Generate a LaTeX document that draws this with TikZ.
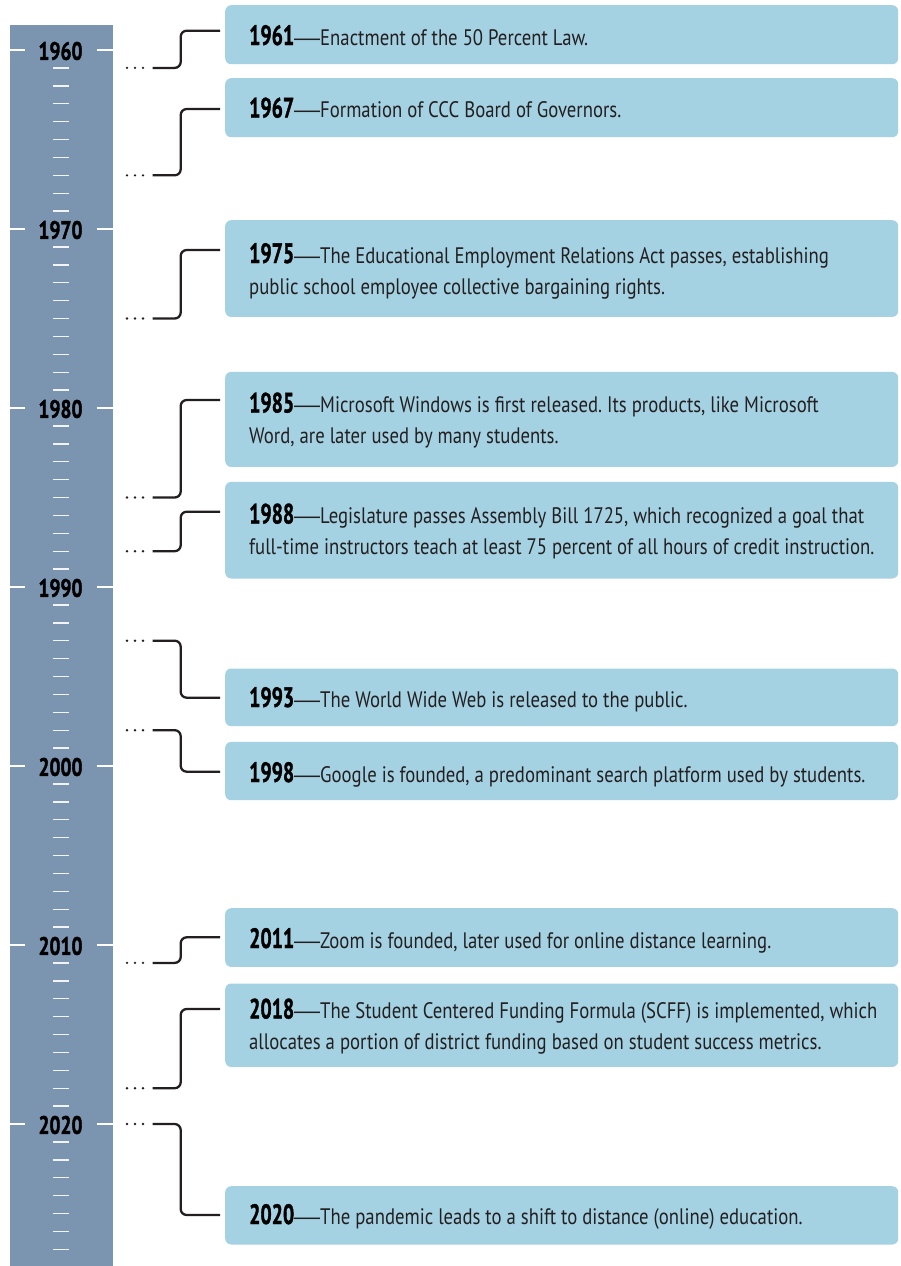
\documentclass[tikz,border=0pt]{standalone}
\usepackage{fontspec}
\usepackage{graphicx}
\usepackage{xcolor}
\setmainfont{PT Sans}
\newfontfamily\calreg{PT Sans}
\newfontfamily\dashfam{Liberation Sans}
\newlength\calw
\newlength\calh
% body text calibration
\settoheight\calh{\calreg\fontsize{100pt}{100pt}\selectfont E}
\pgfmathsetmacro\bodysize{15.7*100/\calh}
\settowidth\calw{\calreg\fontsize{\bodysize pt}{\bodysize pt}\selectfont Enactment of the 50 Percent Law.}
\pgfmathsetmacro\bodyx{268/\calw}
% em dash
\settowidth\calw{\dashfam\fontsize{\bodysize pt}{\bodysize pt}\selectfont —}
\pgfmathsetmacro\dashx{26/\calw}
% year in box
\settoheight\calh{\calreg\bfseries\fontsize{100pt}{100pt}\selectfont 1961}
\pgfmathsetmacro\yearsize{20*100/\calh}
\settowidth\calw{\calreg\bfseries\fontsize{\yearsize pt}{\yearsize pt}\selectfont 1961}
\pgfmathsetmacro\yearx{45/\calw}
% ruler labels
\settoheight\calh{\calreg\bfseries\fontsize{100pt}{100pt}\selectfont 1960}
\pgfmathsetmacro\rulersize{18*100/\calh}
\settowidth\calw{\calreg\bfseries\fontsize{\rulersize pt}{\rulersize pt}\selectfont 1960}
\pgfmathsetmacro\rulerx{44/\calw}
\edef\tmpdef{\noexpand\newfontfamily\noexpand\bodyfam[FakeStretch=\bodyx]{PT Sans}}\tmpdef
\edef\tmpdef{\noexpand\newfontfamily\noexpand\yearfam[FakeStretch=\yearx,FakeBold=1.2]{PT Sans}}\tmpdef
\edef\tmpdef{\noexpand\newfontfamily\noexpand\rulerfam[FakeStretch=\rulerx,FakeBold=1.5]{PT Sans}}\tmpdef

\definecolor{rulerblue}{HTML}{7B94B0}
\definecolor{boxblue}{HTML}{A4D2E3}
\definecolor{ink}{HTML}{231F20}

\newcommand\yr[1]{\textcolor{black}{\yearfam\bfseries\fontsize{\yearsize pt}{\yearsize pt}\selectfont #1}}
\newcommand\emd{\scalebox{\dashx}[1]{\dashfam —}}

\tikzset{
  evbox/.style={fill=boxblue, rounded corners=6pt, inner sep=0pt, minimum width=673pt, anchor=north west},
  evtext/.style={anchor=base west, inner sep=0pt, text=ink, font=\bodyfam\fontsize{\bodysize pt}{31pt}\selectfont\frenchspacing},
  conn/.style={draw=ink, line width=2.3pt, rounded corners=6pt},
  majortick/.style={draw=white, line width=2.2pt},
  minortick/.style={draw=white!90!rulerblue, line width=1.4pt},
  rulerlabel/.style={inner sep=0pt, text=black, font=\rulerfam\bfseries\fontsize{\rulersize pt}{\rulersize pt}\selectfont}
}

% #1 year, #2 box top, #3 box height, #4 first baseline, #5 connector target y, #6 text
\newcommand\event[6]{%
  \node[evbox, minimum height=#3pt] (b#1) at (225,#2) {};
  \node[evtext] (l#1) at (249,#4) {\begin{tabular}[t]{@{}l@{}}#6\end{tabular}};
  \coordinate (d#1) at (152.7,{50+(#1-1960)*17.9});
  \coordinate (t#1) at (220,#5);
  \foreach \dx in {127,135,143} {\fill[ink] (\dx,{50+(#1-1960)*17.9}) circle (1.3);}
  \draw[conn] (d#1) -- ++(28,0) |- (t#1);
}

\begin{document}
\begin{tikzpicture}[x=1pt,y=-1pt]
\useasboundingbox (0,0) rectangle (901,1266);
\fill[white] (0,0) rectangle (901,1266);
% ruler
\fill[rulerblue] (10,25) rectangle (113,1266);
\foreach \k in {1,...,67} {
  \pgfmathtruncatemacro\m{mod(\k,10)}
  \ifnum\m=0\relax\else
    \draw[minortick] (53.3,{50+\k*17.9}) -- (69,{50+\k*17.9});
  \fi
}
\foreach \k in {0,...,6} {
  \pgfmathtruncatemacro\yy{1960+10*\k}
  \draw[majortick] (10,{50+\k*179}) -- (25,{50+\k*179});
  \draw[majortick] (96.7,{50+\k*179}) -- (113,{50+\k*179});
  \node[rulerlabel] (y\yy) at (60.5,{51+\k*179}) {\yy};
}
% events
\event{1961}{5}{59}{45}{30.7}{\yr{1961}\emd Enactment of the 50 Percent Law.}
\event{1967}{78}{59}{117.5}{109}{\yr{1967}\emd Formation of CCC Board of Governors.}
\event{1975}{220}{96.7}{263}{250}{\yr{1975}\emd The Educational Employment Relations Act passes, establishing\\public school employee collective bargaining rights.}
\event{1985}{371.7}{95}{412.5}{400}{\yr{1985}\emd Microsoft Windows is first released. Its products, like Microsoft\\Word, are later used by many students.}
\event{1988}{481.7}{96.6}{523.5}{511.7}{\yr{1988}\emd Legislature passes Assembly Bill 1725, which recognized a goal that\\full-time instructors teach at least 75 percent of all hours of credit instruction.}
\event{1993}{668.3}{57.7}{707}{697.7}{\yr{1993}\emd The World Wide Web is released to the public.}
\event{1998}{741.7}{58.3}{782}{771.7}{\yr{1998}\emd Google is founded, a predominant search platform used by students.}
\event{2011}{908}{58.7}{948}{937.3}{\yr{2011}\emd Zoom is founded, later used for online distance learning.}
\event{2018}{983.3}{83.4}{1018.5}{1009}{\yr{2018}\emd The Student Centered Funding Formula (SCFF) is implemented, which\\allocates a portion of district funding based on student success metrics.}
\event{2020}{1186}{58.3}{1224}{1215}{\yr{2020}\emd The pandemic leads to a shift to distance (online) education.}
\end{tikzpicture}
\end{document}
